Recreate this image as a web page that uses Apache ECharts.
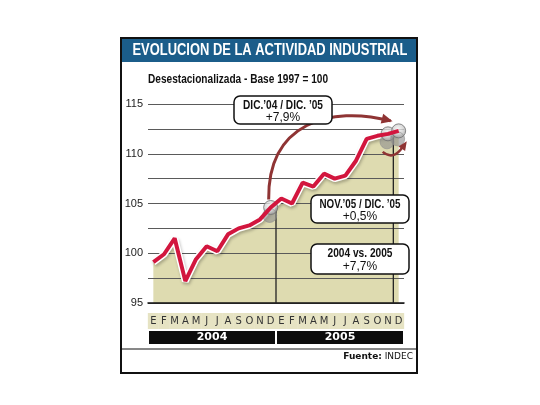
<!DOCTYPE html>
<html><head><meta charset="utf-8">
<script src="https://cdn.jsdelivr.net/npm/echarts@6/dist/echarts.min.js"></script>
<style>html,body{margin:0;padding:0;background:#fff}#c{width:540px;height:405px}</style>
</head><body><div id="c"></div>
<script>
// ---- data ----
const months = ['E','F','M','A','M','J','J','A','S','O','N','D','E','F','M','A','M','J','J','A','S','O','N','D'];
const years = ['2004','2005'];
const values = [99.1,99.9,101.5,97.2,99.4,100.7,100.2,101.9,102.5,102.8,103.4,104.6,
                105.5,105.0,107.1,106.7,108.0,107.5,107.8,109.3,111.5,111.8,112.0,112.3];
const yTicks = [95,100,105,110,115];
const highlightIdx = [11,22,23];
const titleText = 'EVOLUCION DE LA ACTIVIDAD INDUSTRIAL';
const subtitleText = 'Desestacionalizada - Base 1997 = 100';
const noteLabels = ['DIC.\u201904 / DIC. \u201905','NOV.\u201905 / DIC. \u201905','2004 vs. 2005'];
const noteValues = ['+7,9%','+0,5%','+7,7%'];

const FS = '"DejaVu Sans",Verdana,sans-serif';
const FL = '"Liberation Sans",Arial,sans-serif';

const mctx = document.createElement('canvas').getContext('2d');
function measure(text, font){ mctx.font = font; return mctx.measureText(text).width; }
// condensed text: scale horizontally to a target width
function fitText(text, font, x, y, w, align, fill, z){
  const s = Math.min(1, w / measure(text, font));
  return {type:'text', z:z, x:x, y:y, scaleX:s, scaleY:1,
    style:{x:0, y:0, text:text, font:font, fill:fill, align:align, verticalAlign:'middle'}};
}

const chart = echarts.init(document.getElementById('c'), null, {renderer:'canvas'});

const staticGraphics = [
  {type:'rect', z:10, shape:{x:122,y:39,width:294,height:23}, style:{fill:'#1b5d8a'}},
  fitText(titleText, 'bold 16px '+FL, 270, 51, 275, 'center', '#fff', 11),
  fitText(subtitleText, 'bold 12px '+FL, 148, 80, 180, 'left', '#111', 11),
  {type:'line', z:10, shape:{x1:121,y1:349,x2:417,y2:349}, style:{stroke:'#111',lineWidth:1}},
  {type:'text', z:11, style:{x:413,y:357,text:'{b|Fuente:} INDEC',fill:'#111',font:'9px '+FS,align:'right',verticalAlign:'middle',
     rich:{b:{fontWeight:'bold',fontSize:9,fontFamily:FS,fill:'#111'}}}},
  {type:'rect', z:12, shape:{x:121,y:38,width:296,height:335}, style:{fill:'none',stroke:'#111',lineWidth:2}}
];

const option = {
  animation:false,
  backgroundColor:'#fff',
  grid:{left:148,right:136,top:104,bottom:102},
  xAxis:[
    {type:'category',data:months,boundaryGap:true,z:2,
     axisLine:{lineStyle:{color:'#111',width:1.5}},axisTick:{show:false},splitLine:{show:false},
     axisLabel:{interval:0,fontSize:10,color:'#333',fontFamily:FS,margin:10,width:11,height:16,lineHeight:16,
       backgroundColor:'#e6e3c3',align:'center'}},
    {type:'category',data:years,position:'bottom',boundaryGap:true,z:2,
     axisLine:{show:false},axisTick:{show:false},splitLine:{show:false},
     axisLabel:{interval:0,margin:28,color:'#fff',fontWeight:'bold',fontSize:11,fontFamily:FS,
       width:126,height:13,lineHeight:13,backgroundColor:'#0c0c0c',align:'center'}}
  ],
  yAxis:{type:'value',min:95,max:115,interval:2.5,z:2,
    axisLine:{show:false},axisTick:{show:false},
    axisLabel:{formatter:v=>yTicks.includes(v)?String(v):'',fontSize:11,color:'#222',fontFamily:FL,margin:5},
    splitLine:{lineStyle:{color:'#5a5a5a',width:1}}},
  series:[
    {name:'area',type:'line',data:values,symbol:'none',silent:true,z:1,
     lineStyle:{width:0},areaStyle:{color:'#dedbb0',opacity:1}},
    {name:'circles',type:'scatter',data:highlightIdx.map(i=>[i,values[i]]),symbolSize:14,z:6,silent:true,
     itemStyle:{color:{type:'radial',x:0.45,y:0.4,r:0.6,colorStops:[{offset:0,color:'#f6f6f6'},{offset:0.6,color:'#d0d0d0'},{offset:1,color:'#9a9a9a'}]},
       borderColor:'#6f6f6f',borderWidth:1,shadowColor:'rgba(140,140,140,0.75)',shadowOffsetY:8,shadowOffsetX:-1,shadowBlur:0}},
    {name:'halo',type:'line',data:values,symbol:'none',silent:true,z:4,
     lineStyle:{width:7,color:'#ffffff',shadowColor:'rgba(0,0,0,0.25)',shadowBlur:3,shadowOffsetY:2,shadowOffsetX:1}},
    {name:'indice',type:'line',data:values,symbol:'none',z:7,lineStyle:{width:4,color:'#d2163e'}}
  ],
  graphic:{elements:staticGraphics}
};
chart.setOption(option);

// ---- annotations anchored to the scales ----
const px = (i,v)=>chart.convertToPixel({seriesIndex:0},[i,v]);
function boundary(i){
  const a=px(i,values[i]), b=px(i+1,values[i+1]);
  return {x:(a[0]+b[0])/2, top:(a[1]+b[1])/2, bottom:px(i,95)[1]};
}
function arrowHead(tip, from, len, wid){
  const dx=tip[0]-from[0], dy=tip[1]-from[1], L=Math.hypot(dx,dy), ux=dx/L, uy=dy/L;
  const bx=tip[0]-ux*len, by=tip[1]-uy*len;
  return [[tip[0]+ux*2,tip[1]+uy*2],[bx-uy*wid/2,by+ux*wid/2],[bx+uy*wid/2,by-ux*wid/2]];
}
const AR='#8f3434';
const b1=boundary(11), b2=boundary(22);
const p11=px(11,values[11]), p23=px(23,values[23]);
const P0=[p11[0]-2,p11[1]-8], P1=[p11[0]-3,p11[1]-85], P2=[p11[0]+60,p11[1]-102], P3=[p23[0]-8,p23[1]-10];
const s0=[p23[0]-16,p23[1]+21], sc=[p23[0]-5,p23[1]+30], s1=[p23[0]+4,p23[1]+16];

function box(x,y,w,h,l1,l1w,l2){
  return {type:'group',z:8,children:[
    {type:'rect',z:8,shape:{x:x,y:y,width:w,height:h,r:6},style:{fill:'#fff',stroke:'#111',lineWidth:1.5}},
    fitText(l1,'bold 12px '+FL,x+w/2,y+h*0.33,l1w,'center','#111',9),
    {type:'text',z:9,style:{x:x+w/2,y:y+h*0.76,text:l2,fill:'#111',font:'12px '+FL,align:'center',verticalAlign:'middle'}}
  ]};
}

const dyn = [
  {type:'line',z:2.5,shape:{x1:b1.x,y1:b1.top,x2:b1.x,y2:b1.bottom},style:{stroke:'#222',lineWidth:1.3}},
  {type:'line',z:2.5,shape:{x1:b2.x,y1:b2.top,x2:b2.x,y2:b2.bottom},style:{stroke:'#222',lineWidth:1.3}},
  {type:'bezierCurve',z:5,shape:{x1:P0[0],y1:P0[1],cpx1:P1[0],cpy1:P1[1],cpx2:P2[0],cpy2:P2[1],x2:P3[0],y2:P3[1]},
    style:{stroke:AR,lineWidth:3,fill:'none'}},
  {type:'polygon',z:5,shape:{points:arrowHead(P3,P2,9,10)},style:{fill:AR}},
  {type:'bezierCurve',z:8,shape:{x1:s0[0],y1:s0[1],cpx1:sc[0],cpy1:sc[1],x2:s1[0],y2:s1[1]},
    style:{stroke:AR,lineWidth:2.5,fill:'none'}},
  {type:'polygon',z:8,shape:{points:arrowHead([s1[0]+3,s1[1]-4],sc,7,8)},style:{fill:AR}},
  box(234,96,98,28,noteLabels[0],80,noteValues[0]),
  box(311,195,98,28,noteLabels[1],81,noteValues[1]),
  box(311,244,98,30,noteLabels[2],65,noteValues[2])
];
chart.setOption({graphic:{elements:staticGraphics.concat(dyn)}});
</script></body></html>
